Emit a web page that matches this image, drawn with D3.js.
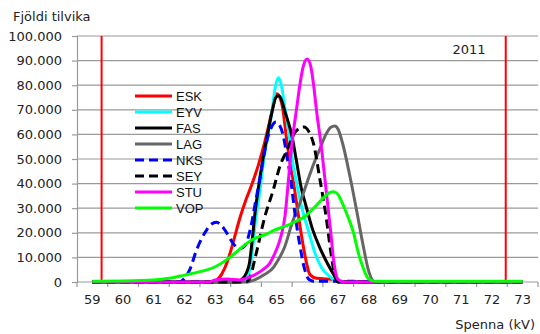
<!DOCTYPE html>
<html>
<head>
<meta charset="utf-8">
<script src="https://cdn.jsdelivr.net/npm/d3@7"></script>
<style>
  html, body { margin: 0; padding: 0; background: #fff; }
  svg { display: block; }
</style>
</head>
<body>
<svg id="chart" width="540" height="334"></svg>
<script>
// Voltage categories (kV) shown on the x axis
const kvLabels = [59, 60, 61, 62, 63, 64, 65, 66, 67, 68, 69, 70, 71, 72, 73];
// Count ticks on the y axis
const countTicks = [0, 10000, 20000, 30000, 40000, 50000, 60000, 70000, 80000, 90000, 100000];
// Voltage limits marked with vertical lines
const limits = [59.3, 72.45];
const yearLabel = "2011";

// Measurement series: [kV, number of cases]
const ESK = [[59,0],[62.8,0],[63.0,500],[63.2,3000],[63.4,8500],[63.6,17000],[63.8,26000],[64.0,33500],[64.2,40000],[64.4,47500],[64.6,56500],[64.8,67000],[64.9,72500],[65.0,76500],[65.1,75000],[65.2,70000],[65.3,60000],[65.4,51000],[65.55,40000],[65.67,30000],[65.79,20000],[65.93,10000],[66.08,3000],[66.3,1500],[66.9,1000],[67.05,0],[73,0]];
const EYV = [[59,0],[63.9,0],[64.05,2000],[64.2,12000],[64.3,24000],[64.45,37000],[64.58,50000],[64.72,60000],[64.85,70000],[64.95,79000],[65.05,83000],[65.15,80000],[65.25,72000],[65.4,60000],[65.5,50000],[65.65,40000],[65.8,31000],[66.05,20000],[66.25,11500],[66.45,6000],[66.75,2000],[67.0,0],[73,0]];
const FAS = [[59,0],[63.7,0],[63.9,1500],[64.1,7000],[64.2,17000],[64.3,29000],[64.4,38000],[64.55,50000],[64.7,60000],[64.86,70000],[64.97,75000],[65.07,75700],[65.17,73500],[65.25,70000],[65.5,59000],[65.63,50000],[65.8,38000],[65.95,31000],[66.15,22000],[66.4,14000],[66.65,7500],[66.9,2000],[67.0,0],[73,0]];
const LAG = [[59,0],[64.0,0],[64.3,1000],[64.6,3000],[64.9,6000],[65.0,8000],[65.25,14000],[65.5,24000],[65.75,32000],[66.0,41000],[66.2,48000],[66.4,54000],[66.6,60000],[66.75,62800],[66.89,63400],[67.0,62000],[67.15,56000],[67.38,43000],[67.6,29000],[67.8,15500],[68.0,4000],[68.2,0],[73,0]];
const NKS = [[59,0],[61.8,0],[62.0,1500],[62.17,5000],[62.39,13000],[62.66,20000],[62.85,23300],[63.04,24300],[63.2,23000],[63.37,20000],[63.58,15700],[63.8,13500],[63.95,14500],[64.15,22000],[64.3,32000],[64.45,42000],[64.67,57000],[64.85,63500],[64.97,65000],[65.1,63500],[65.2,60000],[65.32,52000],[65.45,42000],[65.6,27000],[65.75,15000],[65.9,5500],[66.05,1000],[66.2,300],[67.5,300],[67.7,0],[73,0]];
const SEY = [[59,0],[64.0,0],[64.1,1000],[64.3,10000],[64.6,26000],[64.9,38000],[65.1,47000],[65.35,54000],[65.6,61000],[65.88,63000],[66.05,61000],[66.2,56000],[66.4,42000],[66.6,27000],[66.75,13000],[66.9,2000],[67.0,0],[73,0]];
const STU = [[59,0],[62.8,0],[63.0,800],[63.4,1200],[63.8,800],[64.0,1500],[64.3,3000],[64.55,5000],[64.77,7600],[64.95,12000],[65.1,17000],[65.27,27000],[65.37,40000],[65.45,51000],[65.53,60000],[65.64,70000],[65.75,80000],[65.87,88000],[65.99,90600],[66.1,88000],[66.2,80000],[66.29,70000],[66.46,54000],[66.6,38000],[66.75,21000],[66.85,9000],[66.95,2000],[67.05,500],[67.2,0],[73,0]];
const VOP = [[59,300],[60,400],[61,800],[61.5,1500],[62,2800],[62.5,4200],[63.0,6200],[63.35,8900],[63.7,12300],[64.0,15500],[64.3,17800],[64.67,19500],[64.94,21200],[65.3,22800],[65.6,24500],[65.9,26500],[66.2,30000],[66.5,34000],[66.7,36200],[66.85,36700],[67.0,35500],[67.1,33000],[67.3,27000],[67.5,20000],[67.65,12000],[67.8,6200],[67.97,1500],[68.2,300],[73,300]];

const seriesNames = ["ESK", "EYV", "FAS", "LAG", "NKS", "SEY", "STU", "VOP"];
const seriesData = [ESK, EYV, FAS, LAG, NKS, SEY, STU, VOP];
const seriesColors = ["#ff0000", "#00ffff", "#000000", "#666666", "#0000ff", "#000000", "#ff00ff", "#00ff00"];
const seriesDashes = [null, null, null, null, "9,5", "9,5", null, null];

const svg = d3.select("#chart");
svg.append("rect").attr("width", 540).attr("height", 334).attr("fill", "#fff");

const plot = { left: 77, right: 538, top: 36, bottom: 282 };
const x = d3.scaleLinear().domain([58.5, 73.5]).range([plot.left, plot.right]);
const y = d3.scaleLinear().domain([0, 100000]).range([plot.bottom, plot.top]);

const locale = d3.formatLocale({ decimal: ",", thousands: ".", grouping: [3], currency: ["", ""] });
const fmt = locale.format(",.0f");
const axisFont = "'DejaVu Sans', Verdana, sans-serif";

// horizontal gridlines
svg.append("g").selectAll("line").data(countTicks.filter(d => d > 0)).join("line")
  .attr("x1", plot.left).attr("x2", plot.right)
  .attr("y1", d => y(d)).attr("y2", d => y(d))
  .attr("stroke", "#9a9a9a").attr("stroke-width", 1.2);

// y axis
const yAxis = svg.append("g").attr("transform", `translate(${plot.left},0)`)
  .call(d3.axisLeft(y).tickValues(countTicks).tickFormat(fmt).tickSize(5).tickPadding(10));
yAxis.select(".domain").attr("stroke", "#9a9a9a").attr("stroke-width", 1.2);
yAxis.selectAll(".tick line").attr("stroke", "#9a9a9a").attr("stroke-width", 1.2);
yAxis.selectAll(".tick text").attr("font-family", axisFont).attr("font-size", 13).attr("fill", "#222");

// x axis: labels at category centres, tick marks between categories
const xg = svg.append("g").attr("transform", `translate(0,${plot.bottom})`);
xg.append("line").attr("x1", plot.left).attr("x2", plot.right).attr("y1", 0).attr("y2", 0)
  .attr("stroke", "#9a9a9a").attr("stroke-width", 1.2);
const boundaries = kvLabels.map(d => d - 0.5).concat([kvLabels[kvLabels.length - 1] + 0.5]);
xg.selectAll("line.tk").data(boundaries).join("line").attr("class", "tk")
  .attr("x1", d => x(d)).attr("x2", d => x(d)).attr("y1", 0).attr("y2", 5)
  .attr("stroke", "#9a9a9a").attr("stroke-width", 1.2);
xg.selectAll("text").data(kvLabels).join("text")
  .attr("x", d => x(d)).attr("y", 22)
  .attr("text-anchor", "middle").attr("font-family", axisFont).attr("font-size", 13).attr("fill", "#222")
  .text(d => d);

// voltage limit lines
svg.append("g").selectAll("line").data(limits).join("line")
  .attr("x1", d => x(d)).attr("x2", d => x(d))
  .attr("y1", y(100000)).attr("y2", y(0))
  .attr("stroke", "#ff0000").attr("stroke-width", 2);

// series lines
const line = d3.line().x(d => x(d[0])).y(d => y(d[1])).curve(d3.curveMonotoneX);
svg.append("g").selectAll("path").data(seriesData).join("path")
  .attr("d", d => line(d))
  .attr("fill", "none")
  .attr("stroke", (d, i) => seriesColors[i])
  .attr("stroke-width", 3)
  .attr("stroke-dasharray", (d, i) => seriesDashes[i])
  .attr("stroke-linejoin", "round");

// legend
const legend = svg.append("g");
seriesNames.forEach((name, i) => {
  const ly = 96 + i * 16;
  legend.append("line").attr("x1", 135).attr("x2", 172).attr("y1", ly).attr("y2", ly)
    .attr("stroke", seriesColors[i]).attr("stroke-width", 3)
    .attr("stroke-dasharray", seriesDashes[i]);
  legend.append("text").attr("x", 176).attr("y", ly).attr("dy", "0.36em")
    .attr("font-family", "'Liberation Sans', Arial, sans-serif").attr("font-size", 13).attr("fill", "#111")
    .text(name);
});

// titles
svg.append("text").attr("x", 13).attr("y", 20.5)
  .attr("font-family", axisFont).attr("font-size", 13).attr("fill", "#222").text("Fjöldi tilvika");
svg.append("text").attr("x", 535).attr("y", 329).attr("text-anchor", "end")
  .attr("font-family", axisFont).attr("font-size", 13).attr("fill", "#222").text("Spenna (kV)");
svg.append("text").attr("x", 469).attr("y", 54).attr("text-anchor", "middle")
  .attr("font-family", axisFont).attr("font-size", 13).attr("fill", "#222").text(yearLabel);
</script>
</body>
</html>
